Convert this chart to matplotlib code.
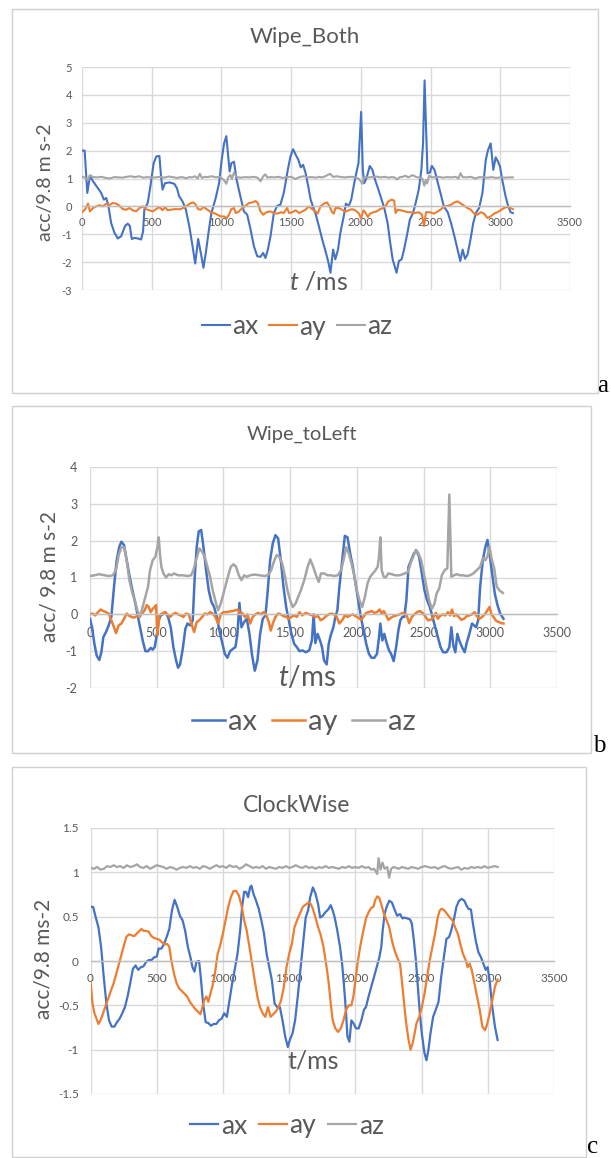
import matplotlib
matplotlib.use('Agg')
import matplotlib.pyplot as plt
from matplotlib.patches import Rectangle

# --- figure size in pixels ---
W, H = 611, 1158

plt.rcParams['font.family'] = ['Lato', 'DejaVu Sans']
plt.rcParams['mathtext.fontset'] = 'custom'
plt.rcParams['mathtext.it'] = 'Lato:italic'
plt.rcParams['mathtext.rm'] = 'Lato'
plt.rcParams['axes.unicode_minus'] = False

BLUE = '#4472C4'
ORANGE = '#ED7D31'
GRAY = '#A5A5A5'
TEXT = '#595959'
GRID = '#D9D9D9'

SERIES_NAMES = ['ax', 'ay', 'az']

# --- data: (t in ms, acc / 9.8 m s-2) ---
# a: Wipe_Both
wb_ax = [(0, 2.0), (19, 2.0), (38, 0.48), (57, 1.1), (79, 0.9), (114, 0.65), (138, 0.48), (157, 0.24),
         (174, 0.3), (190, 0.0), (209, -0.6), (233, -0.95), (257, -1.15), (281, -1.07), (309, -0.7),
         (328, -0.62), (343, -0.7), (357, -1.17), (376, -1.13), (400, -1.15), (424, -1.19), (438, -0.9),
         (447, -0.12), (471, 0.12), (490, 0.7), (514, 1.55), (533, 1.79), (555, 1.81), (567, 1.07),
         (578, 0.6), (595, 0.83), (626, 0.86), (662, 0.81), (681, 0.65), (697, 0.36), (721, 0.18),
         (745, -0.12), (769, -0.7), (793, -1.43), (812, -2.05), (833, -1.17), (852, -1.67), (871, -2.2),
         (888, -1.67), (907, -0.95), (928, -0.24), (959, 0.3), (983, 0.83), (1002, 1.67), (1019, 2.26),
         (1035, 2.52), (1047, 1.9), (1059, 1.25), (1071, 1.55), (1090, 1.6), (1109, 0.95), (1133, 0.42),
         (1161, -0.18), (1185, -0.3), (1209, -0.83), (1233, -1.43), (1257, -1.79), (1280, -1.81),
         (1299, -1.67), (1316, -1.85), (1333, -1.55), (1352, -1.07), (1376, -0.24), (1400, 0.02),
         (1423, 0.06), (1447, 0.48), (1476, 1.31), (1495, 1.79), (1514, 2.05), (1533, 1.85), (1552, 1.67),
         (1569, 1.4), (1586, 1.49), (1604, 1.19), (1623, 0.71), (1640, 0.24), (1656, 0.0), (1675, -0.26),
         (1699, -0.71), (1723, -1.19), (1746, -1.6), (1765, -1.96), (1782, -2.38), (1801, -1.55),
         (1817, -1.9), (1836, -1.55), (1853, -0.95), (1877, -0.36), (1893, 0.1), (1912, 0.0), (1931, 0.24),
         (1948, 0.71), (1967, 1.19), (1983, 1.55), (2002, 3.39), (2014, 1.31), (2024, 0.83), (2040, 1.01),
         (2064, 1.45), (2083, 1.31), (2102, 0.95), (2126, 0.6), (2149, 0.24), (2168, -0.06), (2192, -0.6),
         (2209, -1.25), (2228, -1.9), (2256, -2.38), (2273, -1.96), (2292, -1.9), (2310, -1.55),
         (2334, -0.95), (2351, -0.48), (2374, -0.24), (2393, 0.12), (2415, 0.6), (2434, 1.31), (2446, 2.26),
         (2457, 4.52), (2478, 1.19), (2495, 1.21), (2509, 1.45), (2528, 1.31), (2547, 0.95), (2571, 0.48),
         (2595, 0.0), (2623, -0.21), (2647, -0.6), (2671, -1.07), (2694, -1.55), (2713, -1.96),
         (2730, -1.55), (2747, -1.88), (2765, -1.73), (2784, -1.25), (2806, -0.6), (2825, -0.24),
         (2848, -0.06), (2872, 0.48), (2896, 1.67), (2912, 2.02), (2931, 2.26), (2950, 1.31), (2967, 1.76),
         (2984, 1.6), (2998, 1.43), (3014, 0.95), (3038, 0.36), (3057, 0.0), (3074, -0.21), (3090, -0.24)]

wb_ay = [(0, -0.21), (24, -0.1), (43, 0.1), (57, -0.18), (79, -0.06), (102, 0.0), (126, 0.04), (150, 0.0),
         (174, 0.1), (197, 0.05), (221, 0.12), (245, 0.1), (269, 0.02), (293, -0.1), (317, -0.12),
         (340, -0.06), (364, -0.14), (388, -0.18), (412, -0.06), (436, 0.0), (459, -0.1), (483, -0.14),
         (507, -0.18), (531, -0.1), (555, -0.02), (578, -0.14), (595, -0.02), (614, -0.14), (662, -0.1),
         (709, -0.1), (745, 0.0), (781, 0.12), (800, 0.14), (816, 0.06), (833, -0.1), (852, -0.12),
         (871, -0.02), (900, -0.12), (924, -0.21), (947, -0.24), (971, -0.3), (995, -0.36), (1019, -0.36),
         (1038, -0.42), (1054, -0.3), (1071, -0.1), (1090, -0.06), (1104, -0.24), (1126, -0.18),
         (1150, -0.06), (1173, 0.02), (1197, 0.12), (1221, 0.14), (1245, 0.19), (1261, 0.12), (1280, -0.18),
         (1299, -0.3), (1323, -0.21), (1352, -0.18), (1380, -0.24), (1400, -0.26), (1428, -0.21),
         (1447, -0.24), (1471, -0.06), (1485, -0.24), (1507, -0.21), (1533, -0.14), (1557, -0.24),
         (1580, -0.18), (1604, -0.12), (1628, 0.0), (1651, -0.1), (1675, -0.18), (1690, -0.26), (1711, 0.0),
         (1735, 0.1), (1758, 0.14), (1775, 0.0), (1794, -0.21), (1806, -0.26), (1817, -0.06), (1841, -0.06),
         (1865, -0.12), (1889, -0.19), (1912, -0.14), (1936, -0.1), (1960, -0.14), (1983, -0.24),
         (2002, -0.42), (2019, -0.14), (2031, -0.21), (2050, -0.38), (2066, -0.26), (2090, -0.21),
         (2114, -0.18), (2137, -0.1), (2161, -0.06), (2178, 0.02), (2197, 0.18), (2220, 0.24), (2239, 0.21),
         (2249, -0.24), (2263, -0.12), (2287, -0.14), (2315, -0.18), (2339, -0.21), (2363, -0.21),
         (2386, -0.24), (2415, -0.21), (2438, -0.3), (2453, -0.71), (2467, -0.21), (2493, -0.21),
         (2524, -0.26), (2552, -0.18), (2576, -0.1), (2600, 0.0), (2623, 0.02), (2647, 0.06), (2671, 0.14),
         (2694, 0.18), (2718, 0.1), (2742, 0.02), (2765, -0.06), (2789, -0.12), (2813, -0.26), (2837, -0.3),
         (2860, -0.21), (2884, -0.26), (2908, -0.42), (2931, -0.36), (2955, -0.26), (2979, -0.21),
         (3003, -0.14), (3026, -0.06), (3050, -0.02), (3074, -0.06), (3090, -0.1)]

wb_az = [(0, 1.05), (20, 1.04), (43, 0.95), (57, 1.12), (80, 1.05), (110, 1.04), (140, 1.06), (170, 1.02),
         (200, 1.0), (230, 1.05), (260, 1.04), (290, 1.03), (320, 1.06), (350, 1.08), (380, 1.05),
         (410, 1.08), (440, 1.03), (470, 1.05), (500, 1.03), (530, 1.04), (560, 1.06), (590, 1.03),
         (620, 1.07), (650, 1.05), (680, 1.02), (700, 1.04), (720, 1.05), (745, 1.01), (770, 1.05),
         (790, 1.04), (810, 1.08), (830, 1.0), (845, 1.17), (860, 1.02), (880, 1.06), (900, 1.05),
         (930, 1.08), (960, 1.04), (990, 1.06), (1020, 0.93), (1035, 0.81), (1050, 1.05), (1065, 1.13),
         (1075, 0.98), (1090, 1.21), (1110, 1.05), (1140, 1.03), (1170, 1.05), (1200, 1.04), (1230, 1.06),
         (1260, 1.03), (1280, 0.9), (1300, 1.08), (1315, 1.15), (1330, 1.03), (1350, 1.05), (1380, 1.04),
         (1410, 1.06), (1440, 1.02), (1470, 1.05), (1500, 1.06), (1530, 0.98), (1560, 1.05), (1590, 1.08),
         (1620, 1.04), (1650, 1.05), (1680, 1.03), (1700, 1.06), (1720, 1.04), (1740, 1.07), (1760, 1.12),
         (1780, 1.17), (1800, 1.06), (1830, 1.08), (1860, 1.05), (1890, 1.04), (1920, 1.06), (1950, 1.05),
         (1980, 1.0), (2000, 0.9), (2010, 0.81), (2025, 1.05), (2050, 1.04), (2080, 1.05), (2110, 1.07),
         (2140, 1.04), (2170, 1.06), (2200, 1.03), (2220, 1.05), (2240, 1.04), (2260, 0.97), (2280, 1.05),
         (2300, 1.06), (2320, 1.1), (2340, 1.04), (2370, 1.12), (2400, 1.05), (2420, 1.03), (2440, 1.0),
         (2455, 0.74), (2465, 0.95), (2475, 0.82), (2490, 1.1), (2510, 1.04), (2530, 1.05), (2560, 1.06),
         (2590, 1.03), (2620, 1.05), (2650, 1.04), (2680, 1.06), (2700, 1.0), (2715, 1.19), (2730, 1.05),
         (2760, 1.04), (2790, 1.06), (2820, 1.0), (2850, 1.05), (2880, 1.04), (2910, 1.03), (2940, 1.05),
         (2970, 1.02), (3000, 1.04), (3030, 1.03), (3060, 1.04), (3090, 1.04)]

# b: Wipe_toLeft
wl_ax = [(0, -0.12), (15, -0.35), (33, -0.8), (50, -1.12), (70, -1.24), (85, -1.03), (100, -0.62),
         (120, -0.48), (140, -0.3), (160, -0.07), (180, 0.75), (200, 1.47), (220, 1.84), (235, 1.97),
         (255, 1.88), (275, 1.47), (295, 1.06), (315, 0.7), (335, 0.38), (355, 0.02), (375, -0.35),
         (395, -0.71), (415, -1.0), (435, -1.0), (455, -0.91), (470, -0.96), (485, -0.89), (500, -0.57),
         (515, -0.16), (530, -0.03), (545, 0.0), (565, 0.06), (585, -0.07), (605, -0.35), (625, -0.89),
         (645, -1.25), (660, -1.45), (675, -1.36), (695, -0.94), (715, -0.39), (730, -0.25), (750, -0.3),
         (770, -0.16), (785, 1.02), (800, 1.84), (815, 2.25), (833, 2.29), (850, 1.84), (870, 1.2),
         (890, 0.65), (910, 0.34), (930, 0.2), (950, -0.07), (970, -0.44), (990, -0.75), (1010, -1.07),
         (1030, -1.18), (1050, -1.0), (1070, -0.94), (1090, -0.89), (1105, -0.53), (1120, 0.31),
         (1135, -0.35), (1155, -0.21), (1175, -0.12), (1195, -0.53), (1215, -1.12), (1235, -1.53),
         (1255, -1.25), (1275, -0.53), (1295, -0.12), (1315, -0.03), (1330, 0.56), (1350, 1.47),
         (1370, 1.93), (1390, 2.15), (1410, 2.06), (1430, 1.47), (1450, 0.75), (1470, 0.2), (1490, -0.16),
         (1510, -0.53), (1530, -0.8), (1550, -0.89), (1570, -1.0), (1593, -0.98), (1618, -1.03),
         (1643, -0.98), (1663, -0.71), (1676, 0.0), (1689, -0.78), (1706, -0.53), (1724, -0.71),
         (1739, -0.89), (1754, -1.25), (1774, -1.36), (1789, -0.8), (1804, -0.57), (1824, -0.35),
         (1839, -0.07), (1854, 0.11), (1869, 0.75), (1890, 1.47), (1910, 2.13), (1930, 2.09), (1950, 1.65),
         (1970, 1.29), (1990, 0.84), (2010, 0.38), (2030, -0.07), (2050, -0.44), (2070, -0.8), (2090, -1.07),
         (2110, -1.18), (2131, -1.18), (2151, -1.07), (2166, -0.62), (2176, -0.25), (2191, -0.71),
         (2206, -0.53), (2221, -0.75), (2241, -0.98), (2256, -1.07), (2276, -1.27), (2296, -0.85),
         (2311, -0.44), (2326, -0.16), (2341, -0.07), (2356, -0.07), (2371, 0.38), (2387, 1.29),
         (2407, 1.47), (2427, 1.65), (2447, 1.73), (2467, 1.56), (2487, 1.11), (2507, 0.65), (2527, 0.38),
         (2547, 0.2), (2567, -0.07), (2587, -0.35), (2607, -0.62), (2627, -0.89), (2647, -1.03),
         (2672, -1.03), (2693, -0.89), (2708, -0.35), (2723, -0.85), (2738, -1.03), (2753, -0.53),
         (2768, -0.71), (2788, -0.89), (2808, -1.03), (2823, -0.78), (2843, -0.53), (2863, -0.25),
         (2878, -0.3), (2894, -0.35), (2909, -0.16), (2924, 0.75), (2944, 1.47), (2964, 1.84), (2979, 2.02),
         (2994, 1.65), (3014, 1.11), (3034, 0.56), (3054, 0.25), (3074, 0.02), (3099, -0.12)]

wl_ay = [(0, 0.0), (20, 0.02), (40, -0.03), (60, 0.06), (80, 0.13), (100, 0.09), (120, 0.06), (140, 0.02),
         (160, -0.16), (180, -0.35), (195, -0.51), (215, -0.3), (235, -0.25), (255, -0.12), (275, 0.02),
         (290, -0.03), (310, -0.07), (330, -0.09), (350, -0.05), (370, -0.07), (390, 0.02), (410, 0.11),
         (425, 0.25), (440, 0.2), (455, 0.06), (470, 0.15), (485, 0.2), (495, 0.25), (505, -0.57),
         (520, -0.03), (540, 0.02), (560, 0.06), (580, 0.0), (600, -0.07), (620, 0.0), (640, 0.04),
         (660, 0.0), (680, -0.03), (700, -0.07), (720, 0.02), (740, 0.0), (760, -0.25), (780, -0.48),
         (800, -0.21), (820, -0.16), (840, -0.07), (860, 0.02), (880, 0.0), (900, 0.06), (920, 0.02),
         (940, -0.07), (960, -0.25), (980, 0.0), (1000, 0.06), (1020, 0.06), (1070, 0.09), (1110, 0.13),
         (1125, 0.0), (1140, 0.04), (1160, -0.07), (1180, 0.0), (1200, -0.25), (1220, -0.07), (1240, 0.0),
         (1260, 0.04), (1280, 0.0), (1300, 0.06), (1320, 0.0), (1340, -0.21), (1355, -0.44), (1370, -0.25),
         (1390, -0.07), (1410, 0.02), (1430, 0.0), (1450, -0.05), (1470, -0.07), (1490, -0.12),
         (1510, -0.07), (1530, -0.03), (1550, -0.07), (1570, 0.06), (1590, -0.03), (1618, 0.04), (1643, 0.0),
         (1668, -0.03), (1689, -0.07), (1709, -0.05), (1729, -0.16), (1749, -0.12), (1769, -0.05),
         (1789, 0.0), (1809, 0.02), (1829, 0.0), (1849, -0.07), (1869, -0.25), (1890, -0.16), (1910, -0.03),
         (1930, -0.07), (1950, -0.03), (1970, 0.0), (1990, -0.05), (2010, -0.09), (2030, -0.15),
         (2050, -0.07), (2070, 0.04), (2090, 0.06), (2110, 0.09), (2131, 0.04), (2151, 0.06), (2171, 0.13),
         (2186, 0.02), (2201, 0.09), (2216, 0.0), (2236, -0.15), (2256, -0.09), (2276, -0.05), (2296, -0.03),
         (2321, 0.0), (2346, 0.04), (2371, 0.0), (2392, -0.24), (2412, -0.07), (2432, 0.0), (2452, 0.06),
         (2472, 0.09), (2492, 0.04), (2512, -0.05), (2532, -0.16), (2552, -0.15), (2572, -0.09), (2592, 0.04),
         (2607, -0.12), (2622, -0.05), (2643, 0.0), (2663, -0.03), (2683, 0.06), (2698, -0.03), (2713, 0.13),
         (2728, -0.05), (2743, 0.0), (2763, -0.07), (2783, -0.15), (2803, -0.12), (2823, -0.05),
         (2843, -0.03), (2863, 0.0), (2883, 0.06), (2899, -0.05), (2919, -0.12), (2939, -0.07), (2959, 0.0),
         (2979, 0.11), (2994, 0.2), (3009, 0.0), (3024, -0.07), (3044, -0.18), (3064, -0.21), (3084, -0.24),
         (3099, -0.25)]

wl_az = [(0, 1.04), (33, 1.06), (70, 1.09), (108, 1.06), (145, 1.04), (170, 1.06), (195, 1.2), (215, 1.61),
         (235, 1.82), (255, 1.82), (275, 1.47), (295, 0.93), (315, 0.61), (335, 0.38), (355, 0.11),
         (375, -0.07), (395, 0.2), (415, 0.47), (435, 0.75), (450, 1.2), (470, 1.47), (490, 1.56),
         (505, 1.82), (515, 2.09), (525, 1.61), (535, 1.29), (550, 1.11), (570, 1.0), (590, 1.09),
         (610, 1.06), (630, 1.11), (660, 1.06), (695, 1.06), (733, 1.04), (758, 1.06), (775, 1.2),
         (795, 1.47), (820, 1.79), (840, 1.7), (860, 1.56), (880, 1.29), (900, 1.02), (920, 0.65),
         (945, 0.29), (960, 0.11), (980, 0.29), (1000, 0.56), (1020, 0.84), (1040, 1.11), (1055, 1.29),
         (1075, 1.36), (1095, 1.29), (1115, 1.06), (1135, 0.93), (1155, 1.06), (1175, 1.02), (1200, 1.06),
         (1233, 1.08), (1270, 1.06), (1308, 1.04), (1333, 1.06), (1358, 1.2), (1378, 1.43), (1400, 1.61),
         (1420, 1.56), (1440, 1.38), (1460, 1.06), (1480, 0.65), (1500, 0.38), (1520, 0.2), (1540, 0.29),
         (1560, 0.47), (1580, 0.65), (1606, 0.93), (1631, 1.29), (1651, 1.49), (1673, 1.29), (1694, 1.06),
         (1714, 0.88), (1731, 1.11), (1756, 1.11), (1781, 1.06), (1807, 1.06), (1832, 1.04), (1857, 1.06),
         (1882, 1.2), (1900, 1.47), (1920, 1.82), (1940, 1.65), (1960, 1.38), (1980, 1.06), (2000, 0.65),
         (2020, 0.38), (2040, 0.2), (2060, 0.47), (2080, 0.84), (2100, 1.02), (2120, 1.11), (2140, 1.2),
         (2156, 1.29), (2166, 1.56), (2176, 2.09), (2186, 1.2), (2201, 1.02), (2216, 1.0), (2236, 1.11),
         (2261, 1.09), (2286, 1.06), (2321, 1.06), (2359, 1.11), (2384, 1.15), (2402, 1.38), (2422, 1.56),
         (2442, 1.75), (2462, 1.65), (2482, 1.47), (2502, 1.11), (2522, 0.75), (2542, 0.38), (2562, 0.15),
         (2582, 0.29), (2597, 0.56), (2617, 0.7), (2637, 1.06), (2658, 1.2), (2678, 1.25), (2693, 3.25),
         (2708, 1.02), (2728, 1.06), (2748, 1.09), (2773, 1.06), (2798, 1.06), (2823, 1.04), (2848, 1.06),
         (2873, 1.11), (2899, 1.2), (2924, 1.29), (2944, 1.52), (2964, 1.47), (2979, 1.58), (2994, 1.84),
         (3009, 1.52), (3029, 1.25), (3049, 0.75), (3069, 0.65), (3094, 0.58)]

# c: ClockWise
cw_ax = [(0, 0.61), (20, 0.61), (40, 0.49), (60, 0.38), (80, 0.16), (100, -0.18), (120, -0.48),
         (140, -0.67), (160, -0.74), (180, -0.74), (200, -0.69), (220, -0.65), (240, -0.59), (260, -0.52),
         (280, -0.4), (300, -0.25), (320, -0.09), (340, -0.05), (360, -0.1), (380, -0.07), (400, -0.06),
         (420, -0.01), (440, 0.01), (460, 0.01), (480, 0.04), (500, 0.05), (515, 0.14), (535, 0.14),
         (555, 0.19), (575, 0.27), (595, 0.36), (615, 0.57), (635, 0.69), (655, 0.61), (675, 0.51),
         (695, 0.46), (715, 0.34), (735, 0.16), (755, 0.04), (770, -0.07), (785, -0.12), (800, -0.01),
         (820, 0.0), (835, -0.22), (850, -0.48), (870, -0.69), (890, -0.7), (910, -0.73), (930, -0.71),
         (950, -0.71), (970, -0.67), (990, -0.65), (1010, -0.59), (1030, -0.63), (1050, -0.44),
         (1070, -0.25), (1090, -0.09), (1110, 0.08), (1130, 0.34), (1145, 0.61), (1160, 0.78), (1175, 0.78),
         (1190, 0.72), (1205, 0.83), (1215, 0.85), (1230, 0.76), (1250, 0.68), (1270, 0.59), (1290, 0.46),
         (1310, 0.31), (1330, 0.08), (1350, -0.07), (1370, -0.22), (1390, -0.48), (1410, -0.52),
         (1430, -0.52), (1450, -0.67), (1470, -0.85), (1490, -0.97), (1505, -0.89), (1525, -0.82),
         (1545, -0.67), (1565, -0.4), (1585, -0.1), (1605, 0.19), (1625, 0.49), (1643, 0.57), (1659, 0.72),
         (1679, 0.83), (1699, 0.76), (1719, 0.64), (1734, 0.49), (1754, 0.51), (1774, 0.55), (1794, 0.58),
         (1814, 0.63), (1829, 0.57), (1844, 0.49), (1864, 0.34), (1884, 0.16), (1900, -0.03), (1915, -0.29),
         (1930, -0.59), (1940, -0.85), (1955, -0.91), (1970, -0.67), (1985, -0.7), (2005, -0.76),
         (2025, -0.76), (2045, -0.67), (2065, -0.55), (2080, -0.52), (2100, -0.4), (2120, -0.29),
         (2141, -0.18), (2161, -0.07), (2181, 0.04), (2196, 0.16), (2206, 0.34), (2221, 0.53), (2236, 0.61),
         (2256, 0.68), (2276, 0.66), (2296, 0.58), (2316, 0.51), (2337, 0.53), (2356, 0.48), (2371, 0.49),
         (2392, 0.48), (2412, 0.47), (2427, 0.42), (2442, 0.23), (2457, 0.01), (2472, -0.29), (2487, -0.59),
         (2502, -0.82), (2522, -1.04), (2537, -1.12), (2552, -1.0), (2567, -0.82), (2587, -0.63),
         (2607, -0.55), (2628, -0.46), (2648, -0.18), (2668, 0.04), (2688, 0.25), (2708, 0.27), (2723, 0.34),
         (2743, 0.46), (2763, 0.61), (2783, 0.68), (2803, 0.7), (2823, 0.68), (2838, 0.63), (2853, 0.59),
         (2873, 0.58), (2888, 0.42), (2909, 0.23), (2929, 0.1), (2949, 0.04), (2969, -0.04), (2984, -0.1),
         (2999, -0.07), (3014, -0.22), (3034, -0.52), (3054, -0.74), (3074, -0.89)]

cw_ay = [(0, -0.22), (15, -0.48), (30, -0.59), (45, -0.65), (60, -0.71), (75, -0.67), (95, -0.59),
         (115, -0.5), (135, -0.42), (155, -0.33), (175, -0.25), (195, -0.14), (215, -0.03), (235, 0.08),
         (255, 0.19), (270, 0.27), (290, 0.3), (310, 0.29), (330, 0.28), (350, 0.31), (370, 0.34),
         (385, 0.36), (400, 0.34), (420, 0.34), (440, 0.33), (460, 0.28), (480, 0.26), (500, 0.25),
         (520, 0.24), (540, 0.21), (560, 0.19), (580, 0.19), (595, 0.16), (610, 0.01), (630, -0.14),
         (650, -0.25), (670, -0.31), (690, -0.34), (710, -0.37), (730, -0.4), (750, -0.46), (770, -0.5),
         (790, -0.54), (810, -0.57), (830, -0.6), (845, -0.52), (860, -0.44), (875, -0.4), (890, -0.46),
         (905, -0.37), (920, -0.29), (940, -0.14), (960, 0.08), (980, 0.18), (1000, 0.31), (1020, 0.46),
         (1040, 0.61), (1060, 0.72), (1080, 0.79), (1100, 0.79), (1120, 0.74), (1140, 0.63), (1160, 0.46),
         (1180, 0.34), (1200, 0.16), (1220, -0.03), (1240, -0.22), (1260, -0.4), (1280, -0.52), (1300, -0.59),
         (1320, -0.63), (1340, -0.52), (1360, -0.63), (1380, -0.6), (1400, -0.57), (1420, -0.52),
         (1440, -0.44), (1460, -0.29), (1480, -0.07), (1500, 0.08), (1520, 0.19), (1540, 0.38), (1560, 0.46),
         (1580, 0.53), (1603, 0.61), (1628, 0.64), (1649, 0.66), (1664, 0.64), (1679, 0.59), (1699, 0.49),
         (1719, 0.38), (1739, 0.29), (1759, 0.16), (1779, -0.03), (1799, -0.25), (1814, -0.48), (1829, -0.67),
         (1849, -0.76), (1869, -0.8), (1890, -0.76), (1910, -0.67), (1930, -0.55), (1950, -0.5), (1970, -0.5),
         (1985, -0.4), (2000, -0.22), (2020, 0.01), (2040, 0.19), (2060, 0.34), (2080, 0.48), (2100, 0.55),
         (2120, 0.6), (2136, 0.61), (2151, 0.69), (2166, 0.73), (2181, 0.71), (2196, 0.64), (2216, 0.53),
         (2236, 0.46), (2256, 0.38), (2276, 0.23), (2296, 0.12), (2316, 0.04), (2337, -0.03), (2351, -0.22),
         (2371, -0.52), (2387, -0.74), (2402, -0.89), (2417, -1.0), (2432, -0.93), (2447, -0.82),
         (2462, -0.7), (2482, -0.63), (2502, -0.52), (2522, -0.37), (2542, -0.18), (2562, 0.01), (2582, 0.16),
         (2602, 0.31), (2622, 0.49), (2637, 0.57), (2653, 0.59), (2673, 0.57), (2693, 0.53), (2713, 0.49),
         (2733, 0.46), (2753, 0.38), (2773, 0.31), (2793, 0.19), (2813, 0.08), (2833, 0.01), (2848, -0.07),
         (2863, -0.03), (2879, -0.1), (2899, -0.25), (2919, -0.4), (2939, -0.55), (2959, -0.74),
         (2979, -0.78), (2994, -0.72), (3014, -0.59), (3034, -0.44), (3054, -0.29), (3074, -0.21)]

cw_az = [(0, 1.05), (25, 1.04), (50, 1.06), (75, 1.03), (100, 1.04), (125, 1.07), (150, 1.06), (175, 1.08),
         (200, 1.06), (225, 1.07), (250, 1.05), (275, 1.08), (300, 1.06), (325, 1.07), (350, 1.09),
         (375, 1.06), (400, 1.05), (425, 1.07), (450, 1.04), (475, 1.06), (500, 1.08), (525, 1.07),
         (550, 1.06), (575, 1.04), (600, 1.06), (625, 1.05), (650, 1.03), (675, 1.05), (700, 1.06),
         (725, 1.05), (750, 1.07), (775, 1.05), (800, 1.06), (825, 1.04), (850, 1.07), (875, 1.06),
         (900, 1.04), (925, 1.06), (950, 1.08), (975, 1.06), (1000, 1.07), (1025, 1.05), (1050, 1.08),
         (1075, 1.06), (1100, 1.07), (1125, 1.04), (1150, 1.06), (1175, 1.09), (1200, 1.07), (1225, 1.05),
         (1250, 1.06), (1275, 1.05), (1300, 1.07), (1325, 1.04), (1350, 1.06), (1375, 1.05), (1400, 1.04),
         (1425, 1.06), (1450, 1.05), (1475, 1.07), (1500, 1.05), (1525, 1.06), (1550, 1.08), (1575, 1.06),
         (1600, 1.05), (1625, 1.07), (1650, 1.05), (1675, 1.06), (1700, 1.04), (1725, 1.06), (1750, 1.05),
         (1775, 1.07), (1800, 1.05), (1825, 1.06), (1850, 1.05), (1875, 1.04), (1900, 1.06), (1925, 1.05),
         (1950, 1.07), (1975, 1.05), (2000, 1.06), (2025, 1.05), (2050, 1.07), (2075, 1.05), (2100, 1.06),
         (2120, 1.03), (2140, 1.04), (2150, 1.02), (2165, 0.98), (2175, 1.16), (2190, 1.03), (2205, 1.11),
         (2220, 1.04), (2240, 1.06), (2255, 0.94), (2270, 1.04), (2290, 1.06), (2310, 1.05), (2330, 1.04),
         (2350, 1.06), (2375, 1.05), (2400, 1.04), (2425, 1.06), (2450, 1.05), (2475, 1.04), (2500, 1.06),
         (2525, 1.07), (2550, 1.06), (2575, 1.05), (2600, 1.06), (2625, 1.04), (2650, 1.06), (2675, 1.07),
         (2700, 1.05), (2725, 1.04), (2750, 1.05), (2775, 1.06), (2800, 1.03), (2825, 1.05), (2850, 1.04),
         (2875, 1.06), (2900, 1.05), (2925, 1.06), (2950, 1.05), (2975, 1.07), (3000, 1.05), (3025, 1.06),
         (3050, 1.07), (3075, 1.06)]

x_ticks = [0, 500, 1000, 1500, 2000, 2500, 3000, 3500]
wb_yticks = [-3, -2, -1, 0, 1, 2, 3, 4, 5]
wl_yticks = [-2, -1, 0, 1, 2, 3, 4]
cw_yticks = [-1.5, -1, -0.5, 0, 0.5, 1, 1.5]


# --- helpers: pixel positions (from top-left) -> figure fractions ---
def fx(px):
    return px / W


def fy(py):
    return 1 - py / H


def draw_panel(fig, data, yticks, lay):
    # outer frame of the Excel chart
    x0, y0, x1, y1 = lay['box']
    fig.add_artist(Rectangle((fx(x0), fy(y1)), (x1 - x0) / W, (y1 - y0) / H,
                             transform=fig.transFigure, fill=False,
                             edgecolor='#D0D0D0', lw=1.0))

    l, t, r, b = lay['plot']
    ax = fig.add_axes([fx(l), fy(b), (r - l) / W, (b - t) / H])
    ax.set_xlim(0, 3500)
    ax.set_ylim(yticks[0], yticks[-1])
    ax.set_xticks(x_ticks)
    ax.set_yticks(yticks)
    ax.set_yticklabels(['%g' % v for v in yticks])
    ax.grid(True, color=GRID, lw=1.0)
    ax.set_axisbelow(True)
    for side in ['top', 'right', 'left']:
        ax.spines[side].set_visible(False)
    ax.spines['bottom'].set_position(('data', 0))
    ax.spines['bottom'].set_color('#BFBFBF')
    ax.spines['bottom'].set_linewidth(1.0)
    ax.tick_params(length=0, labelcolor=TEXT, labelsize=lay['tick_size'])
    ax.tick_params(axis='x', pad=lay['xpad'])
    ax.tick_params(axis='y', pad=lay['ypad'])

    lines = []
    for pts, color, name in zip(data, [BLUE, ORANGE, GRAY], SERIES_NAMES):
        ts, vs = zip(*pts)
        ln, = ax.plot(ts, vs, color=color, lw=lay['lw'], label=name, solid_joinstyle='round')
        lines.append(ln)

    fig.text(fx(lay['title_xy'][0]), fy(lay['title_xy'][1]), lay['title'],
             ha='center', va='center', fontsize=lay['title_size'], color=TEXT)
    fig.text(fx(lay['ylabel_xy'][0]), fy(lay['ylabel_xy'][1]), lay['ylabel'],
             ha='center', va='center', rotation=90, fontsize=lay['ylabel_size'], color=TEXT)
    fig.text(fx(lay['xlabel_xy'][0]), fy(lay['xlabel_xy'][1]), lay['xlabel'],
             ha='center', va='center', fontsize=lay['xlabel_size'], color=TEXT)

    leg = ax.legend(handles=lines, loc='center', ncol=3, frameon=False,
                    bbox_to_anchor=(fx(lay['legend_xy'][0]), fy(lay['legend_xy'][1])),
                    bbox_transform=fig.transFigure, fontsize=lay['legend_size'],
                    handlelength=lay['handlelength'], handletextpad=0.1,
                    columnspacing=lay['colspacing'], borderaxespad=0)
    for txt in leg.get_texts():
        txt.set_color(TEXT)

    fig.text(fx(lay['letter_xy'][0]), fy(lay['letter_xy'][1]), lay['letter'],
             ha='left', va='baseline', fontsize=18, family='Liberation Serif', color='black')
    return ax


layout_a = dict(box=(12, 9, 598, 393), plot=(82, 67, 570, 290),
                title='Wipe_Both', title_xy=(305, 37), title_size=16,
                ylabel='acc/9.8 m s-2', ylabel_xy=(46, 182), ylabel_size=14,
                xlabel=r'$t$ /ms', xlabel_xy=(318, 282), xlabel_size=18,
                legend_xy=(297, 327), legend_size=19, handlelength=1.06, colspacing=0.4,
                tick_size=8, xpad=8, ypad=7, lw=1.5,
                letter='a', letter_xy=(597, 392))

layout_b = dict(box=(12, 406, 591, 753), plot=(90, 467, 557, 688),
                title='Wipe_toLeft', title_xy=(302, 434), title_size=14.5,
                ylabel='acc/ 9.8 m s-2', ylabel_xy=(49.5, 577), ylabel_size=15,
                xlabel=r'$t$/ms', xlabel_xy=(307, 677), xlabel_size=20,
                legend_xy=(304, 722), legend_size=21, handlelength=1.14, colspacing=0.5,
                tick_size=9, xpad=9, ypad=9, lw=1.8,
                letter='b', letter_xy=(593, 752))

layout_c = dict(box=(12, 767, 586, 1157), plot=(90.5, 828, 554, 1094),
                title='ClockWise', title_xy=(297, 805), title_size=16.5,
                ylabel='acc/9.8 ms-2', ylabel_xy=(44, 959), ylabel_size=15,
                xlabel='t/ms', xlabel_xy=(313, 1061), xlabel_size=18,
                legend_xy=(287, 1126), legend_size=19, handlelength=1.06, colspacing=0.45,
                tick_size=8.5, xpad=8.5, ypad=8.5, lw=1.6,
                letter='c', letter_xy=(587, 1153))

fig = plt.figure(figsize=(W / 100, H / 100), dpi=100)
fig.patch.set_facecolor('white')

draw_panel(fig, [wb_ax, wb_ay, wb_az], wb_yticks, layout_a)
draw_panel(fig, [wl_ax, wl_ay, wl_az], wl_yticks, layout_b)
draw_panel(fig, [cw_ax, cw_ay, cw_az], cw_yticks, layout_c)

fig.savefig('out.png', dpi=100)
